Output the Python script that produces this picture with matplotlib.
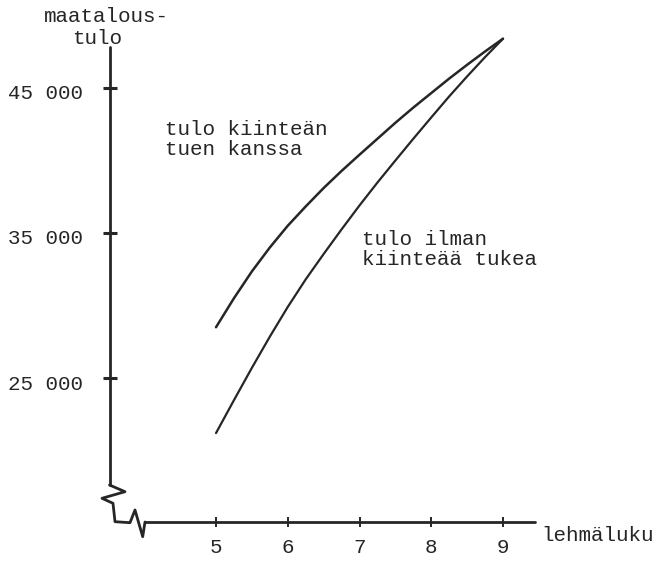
import matplotlib
matplotlib.use('Agg')
import matplotlib.pyplot as plt
from matplotlib.transforms import ScaledTranslation

# ---- data ----
cows = [5, 5.25, 5.5, 5.75, 6, 6.25, 6.5, 6.75, 7, 7.25, 7.5, 7.75, 8, 8.25, 8.5, 8.75, 9]
income_with_support = [28500, 30500, 32350, 34000, 35500, 36830, 38100, 39280, 40400,
                       41500, 42600, 43650, 44650, 45650, 46600, 47520, 48400]
income_without_support = [21200, 23470, 25700, 27850, 29900, 31800, 33550, 35250, 36900,
                          38480, 40000, 41500, 42970, 44420, 45800, 47130, 48400]
x_ticks = [5, 6, 7, 8, 9]
x_tick_labels = ['5', '6', '7', '8', '9']
y_ticks = [25000, 35000, 45000]
y_tick_labels = ['25 000', '35 000', '45 000']
label_with = ['tulo kiinteän', 'tuen kanssa']
label_without = ['tulo ilman', 'kiinteää tukea']
y_title = ['maatalous-', 'tulo']
x_title = 'lehmäluku'

# ---- layout ----
W, H = 664, 565
INK = '#262626'
FONT = 'Liberation Mono'
FS = 15


def px2x(p):
    return 5 + (p - 216) / 71.75


def py2y(p):
    return 25000 + (378 - p) / 0.0145


fig = plt.figure(figsize=(W / 100, H / 100), dpi=100)
fig.patch.set_facecolor('white')
ax = fig.add_axes([0, 0, 1, 1])
ax.set_xlim(px2x(0), px2x(W))
ax.set_ylim(py2y(H), py2y(0))
ax.patch.set_alpha(0)

for s in ('top', 'right'):
    ax.spines[s].set_visible(False)
ax.spines['left'].set_position(('data', px2x(109.5)))
ax.spines['left'].set_bounds(py2y(485), py2y(47))
ax.spines['bottom'].set_position(('data', py2y(522)))
ax.spines['bottom'].set_bounds(px2x(145), px2x(535))
for s in ('left', 'bottom'):
    ax.spines[s].set_color(INK)
    ax.spines[s].set_linewidth(2.0)
    ax.spines[s].set_capstyle('round')

ax.set_xticks(x_ticks)
ax.set_xticklabels(x_tick_labels, fontfamily=FONT, fontsize=FS, color=INK)
ax.set_yticks(y_ticks)
ax.set_yticklabels(y_tick_labels, fontfamily=FONT, fontsize=FS, color=INK)
ax.tick_params(axis='x', direction='inout', length=7.5, width=1.4, color=INK, pad=8)
ax.tick_params(axis='y', direction='inout', length=10, width=2.2, color=INK, pad=14)
for lab in ax.get_yticklabels():
    lab.set_transform(lab.get_transform() + ScaledTranslation(0, -0.04, fig.dpi_scale_trans))

ax.plot(cows, income_with_support, color=INK, lw=1.8, solid_capstyle='round',
        solid_joinstyle='round')
ax.plot(cows, income_without_support, color=INK, lw=1.6, solid_capstyle='round',
        solid_joinstyle='round')

# ---- overlay in pixel coordinates for texts and axis break ----
ov = fig.add_axes([0, 0, 1, 1], facecolor='none')
ov.set_xlim(0, W)
ov.set_ylim(H, 0)
ov.axis('off')

brk_x = [109.5, 125, 102, 113, 115, 130, 135, 142.7, 145]
brk_y = [485, 491.7, 498.3, 503.3, 521.7, 522.7, 510, 536.7, 522]
ov.plot(brk_x, brk_y, color=INK, lw=2.0, solid_joinstyle='round', solid_capstyle='round')

tkw = dict(fontfamily=FONT, fontsize=FS, color=INK, va='baseline', ha='left')
ov.text(44, 22.5, y_title[0], **tkw)
ov.text(72, 44, y_title[1], **tkw)
ov.text(541, 541, x_title, **tkw)
ov.text(165, 135, label_with[0], **tkw)
ov.text(165, 155, label_with[1], **tkw)
ov.text(362, 245, label_without[0], **tkw)
ov.text(362, 265, label_without[1], **tkw)

fig.savefig('out.png', dpi=100, facecolor='white')
